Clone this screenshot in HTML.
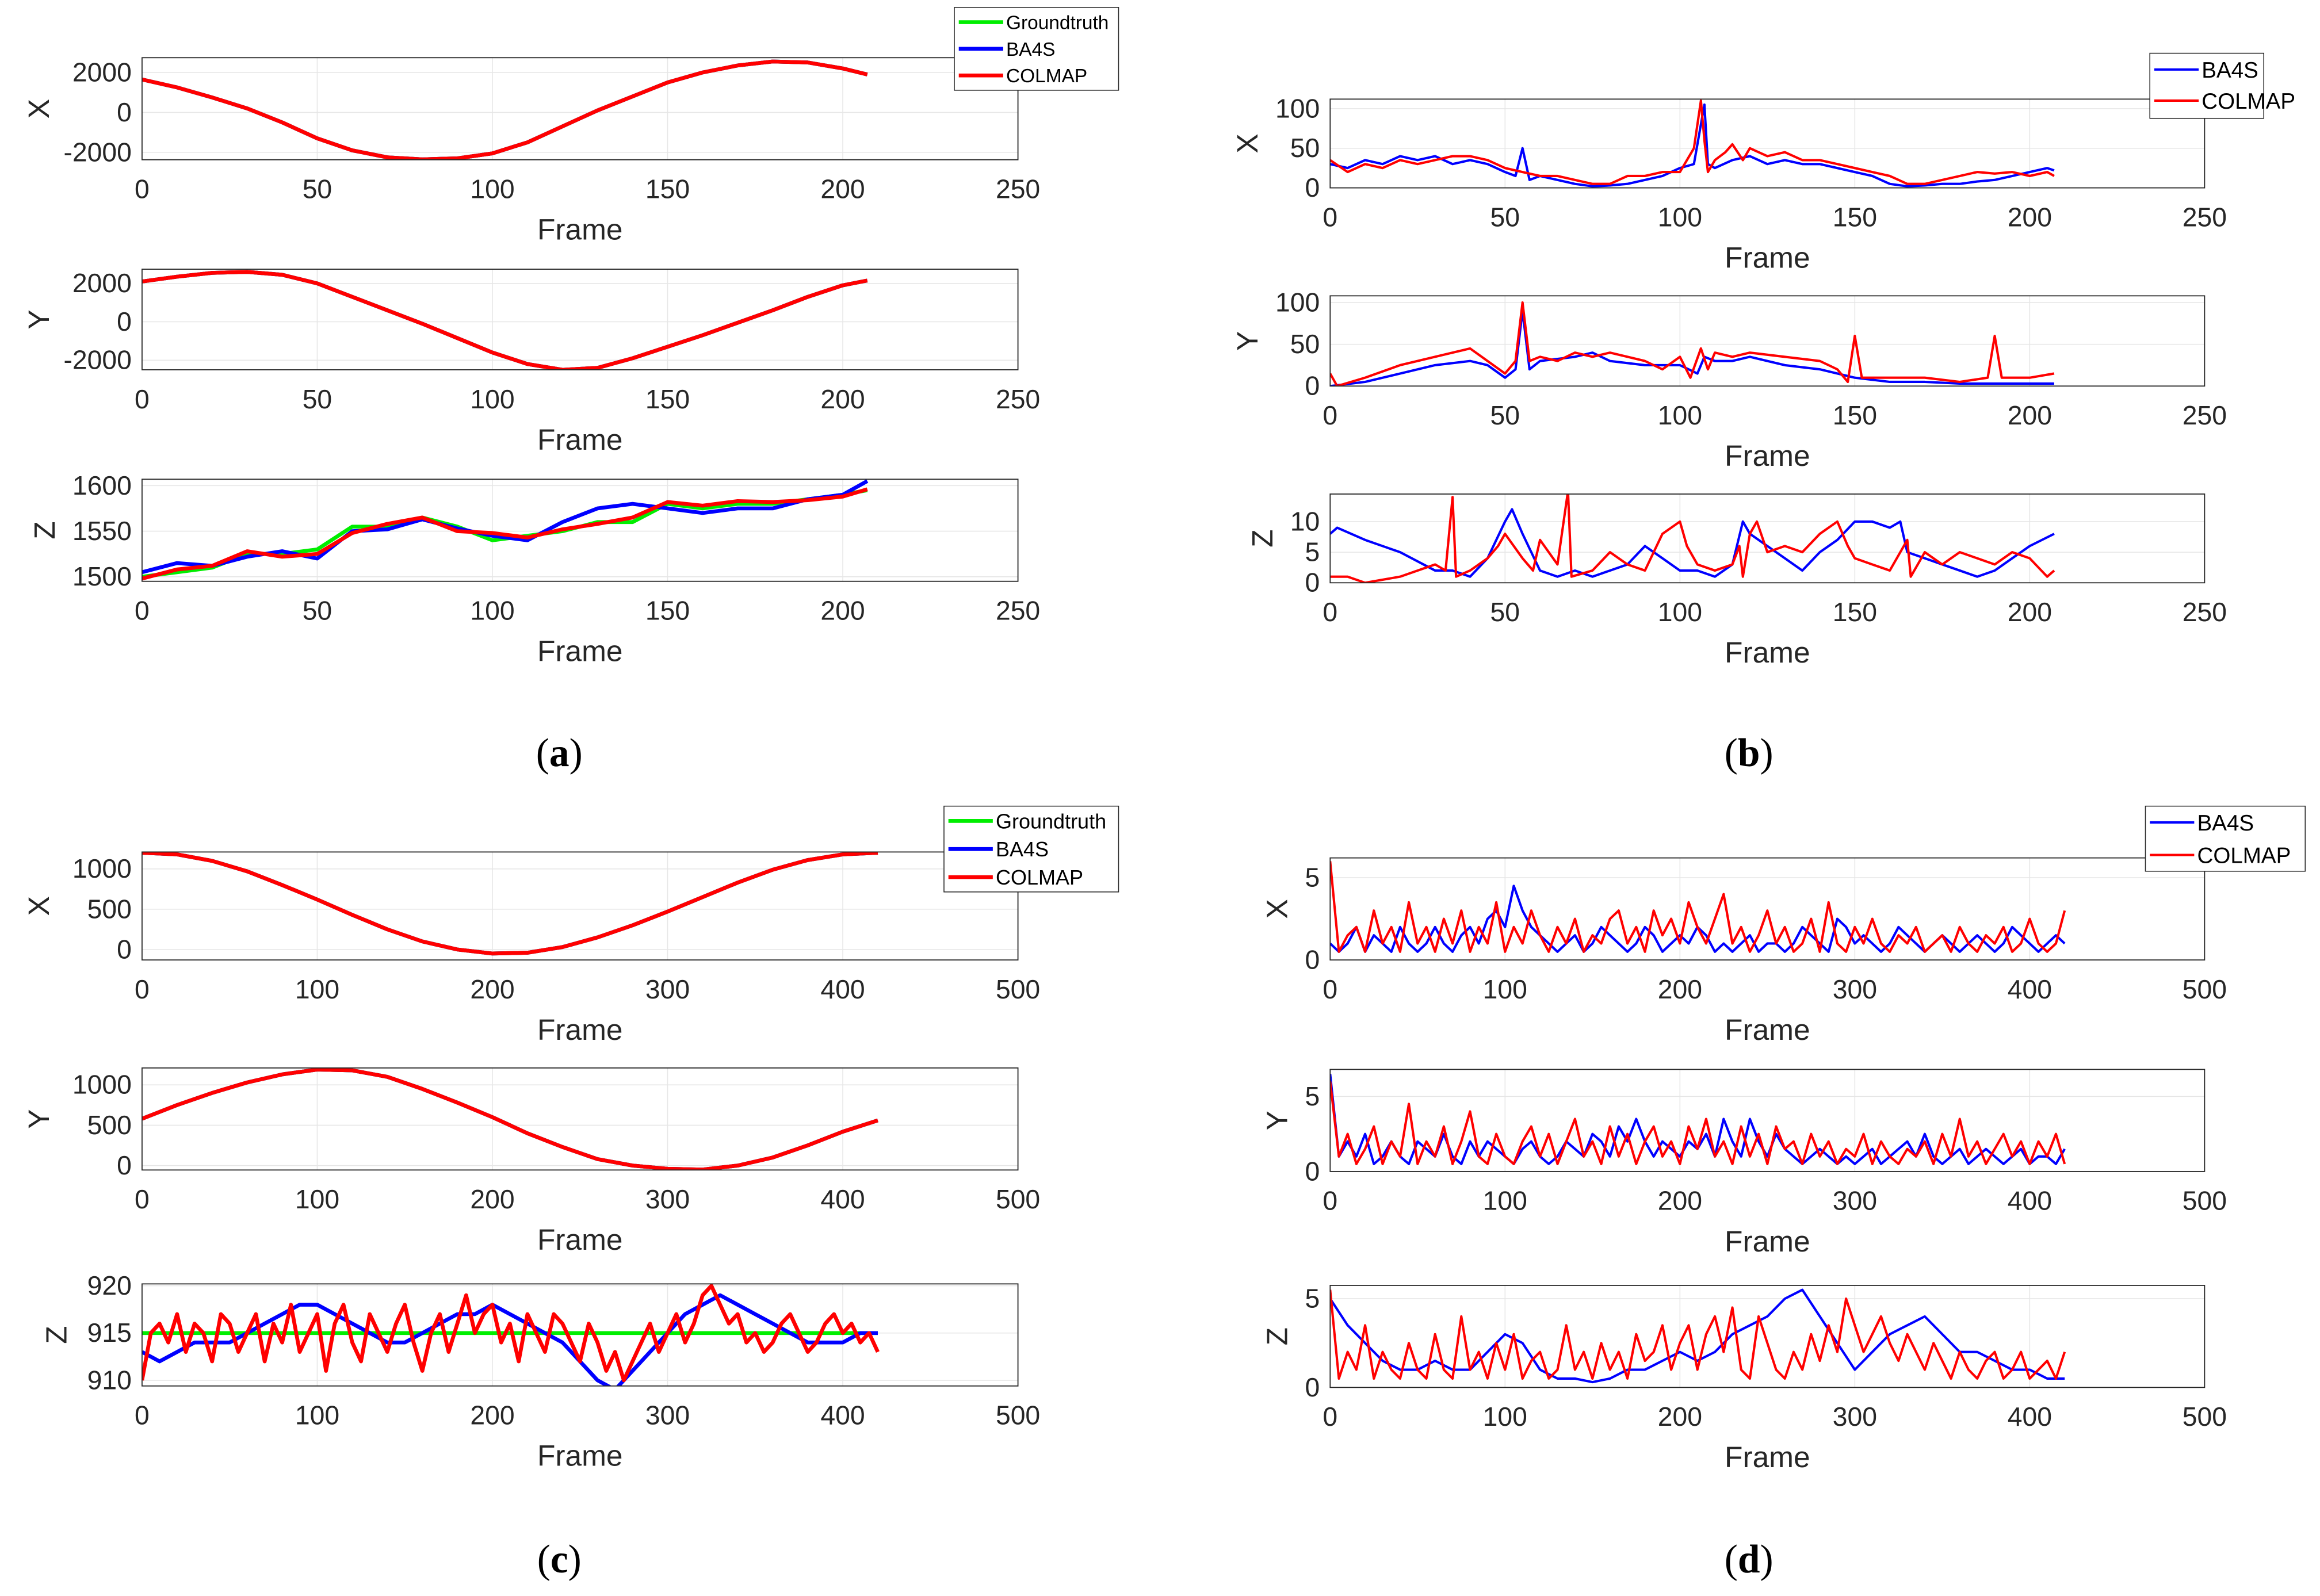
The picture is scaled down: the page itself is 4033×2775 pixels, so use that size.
<!DOCTYPE html>
<html><head><meta charset="utf-8"><style>
html,body{margin:0;padding:0;background:#fff;}
svg{display:block;}
text{font-family:"Liberation Sans",sans-serif;}
</style></head><body>
<svg id="fig" width="4033" height="2775" viewBox="0 0 1568 1079" preserveAspectRatio="none" xmlns="http://www.w3.org/2000/svg"></svg>
<script>
// ---- data ----
const aF=[0,10,20,30,40,50,60,70,80,90,100,110,120,130,140,150,160,170,180,190,200,207];
const aX=[1650,1250,750,200,-500,-1300,-1900,-2250,-2350,-2300,-2050,-1500,-700,100,800,1500,2000,2350,2550,2500,2200,1900];
const aY=[2100,2350,2550,2600,2450,2000,1300,600,-100,-850,-1600,-2200,-2500,-2400,-1900,-1300,-700,-50,600,1300,1900,2150];
const aZgt=[1500,1505,1510,1525,1525,1530,1555,1555,1565,1555,1540,1545,1550,1560,1560,1580,1575,1580,1580,1585,1590,1595];
const aZba=[1505,1515,1512,1522,1528,1520,1550,1552,1563,1553,1545,1540,1560,1575,1580,1575,1570,1575,1575,1585,1590,1605];
const aZco=[1498,1508,1512,1528,1522,1525,1548,1558,1565,1550,1548,1543,1552,1558,1565,1582,1578,1583,1582,1584,1588,1596];

const bXbF=[0,5,10,15,20,25,30,35,40,45,50,53,55,57,60,65,70,75,80,85,90,95,100,104,106,107,108,110,115,120,125,130,135,140,145,150,155,160,165,170,175,180,185,190,195,200,205,207];
const bXb=[30,25,35,30,40,35,40,30,35,30,20,15,50,10,15,10,5,2,3,5,10,15,25,30,80,105,30,25,35,40,30,35,30,30,25,20,15,5,2,3,5,5,8,10,15,20,25,22];
const bXrF=[0,5,10,15,20,25,30,35,40,45,50,55,60,65,70,75,80,85,90,95,100,104,106,107,108,110,113,115,118,120,125,130,135,140,145,150,155,160,165,170,175,180,185,190,195,200,205,207];
const bXr=[35,20,30,25,35,30,35,40,40,35,25,20,15,15,10,5,5,15,15,20,20,50,110,60,20,35,45,55,35,50,40,45,35,35,30,25,20,15,5,5,10,15,20,18,20,15,20,15];
const bYbF=[0,10,20,30,40,45,50,53,55,57,60,70,75,80,90,100,105,107,110,115,120,130,140,150,160,170,180,190,200,207];
const bYb=[0,5,15,25,30,25,10,20,90,20,30,35,40,30,25,25,15,35,30,30,35,25,20,10,5,5,3,3,3,3];
const bYrF=[0,2,10,20,30,35,40,45,50,53,55,57,60,65,70,75,80,85,90,95,100,103,106,108,110,115,120,130,140,145,148,150,152,160,170,180,188,190,192,200,207];
const bYr=[15,0,10,25,35,40,45,30,15,30,100,30,35,30,40,35,40,35,30,20,35,10,45,20,40,35,40,35,30,20,5,60,10,10,10,5,10,60,10,10,15];
const bZbF=[0,2,10,20,30,35,40,45,50,52,55,60,65,70,75,80,85,90,95,100,105,110,115,118,120,125,130,135,140,145,150,155,160,163,165,170,175,180,185,190,195,200,207];
const bZb=[8,9,7,5,2,2,1,4,10,12,8,2,1,2,1,2,3,6,4,2,2,1,3,10,8,6,4,2,5,7,10,10,9,10,5,4,3,2,1,2,4,6,8];
const bZrF=[0,5,10,20,30,33,35,36,40,45,48,50,55,58,60,65,68,69,75,80,85,90,95,100,102,105,110,115,117,118,120,122,125,130,135,140,145,148,150,155,160,165,166,170,175,180,185,190,195,200,205,207];
const bZr=[1,1,0,1,3,2,14,1,2,4,6,8,4,2,7,3,15,1,2,5,3,2,8,10,6,3,2,3,6,1,8,10,5,6,5,8,10,6,4,3,2,7,1,5,3,5,4,3,5,4,1,2];

const cF=[0,20,40,60,80,100,120,140,160,180,200,220,240,260,280,300,320,340,360,380,400,420];
const cX=[1200,1180,1100,970,800,620,430,250,100,0,-50,-40,30,150,300,470,650,830,990,1110,1180,1200];
const cY=[580,750,900,1030,1130,1190,1180,1100,950,780,600,400,230,80,0,-40,-50,0,100,250,420,560];
const cZgt=[915,915];
const cZgtF=[0,420];
const cZb=[913,912,913,914,914,914,915,916,917,918,918,917,916,915,914,914,915,916,917,917,918,917,916,915,914,912,910,909,911,913,915,917,918,919,918,917,916,915,914,914,914,915,915];
const cZr=[910,915,916,914,917,913,916,915,912,917,916,913,915,917,912,916,914,918,913,915,917,911,916,918,914,912,917,915,913,916,918,914,911,915,917,913,916,919,915,917,918,914,916,912,917,915,913,917,916,914,912,916,914,911,913,910,912,914,916,913,915,917,914,916,919,920,918,916,917,914,915,913,914,916,917,915,913,914,916,917,915,916,914,915,913];

const dXb=[1,0.5,1,2,0.5,1.5,1,0.5,2,1,0.5,1,2,1,0.5,1.5,2,1,2.5,3,2,4.5,3,2,1.5,1,0.5,1,1.5,0.5,1,2,1.5,1,0.5,1,2,1.5,0.5,1,1.5,1,2,1.5,0.5,1,0.5,1,1.5,0.5,1,1,0.5,1,2,1.5,1,0.5,2.5,2,1,1.5,1,0.5,1,2,1.5,1,0.5,1,1.5,1,0.5,1,1.5,1,0.5,1,2,1.5,1,0.5,1,1.5,1];
const dXr=[6,0.5,1.5,2,0.5,3,1,2,0.5,3.5,1,2,0.5,2.5,1,3,0.5,2,1,3.5,0.5,2,1,3,1.5,0.5,2,1,2.5,0.5,1.5,1,2.5,3,1,2,0.5,3,1.5,2.5,1,3.5,2,1,2.5,4,1,2,0.5,1.5,3,1,2,0.5,1,2.5,0.5,3.5,1,0.5,2,1,2.5,1,0.5,1.5,1,2,0.5,1,1.5,0.5,2,1,0.5,1.5,1,2,0.5,1,2.5,1,0.5,1,3];
const dYb=[6.5,1,2,1,2.5,0.5,1,2,1,0.5,2,1.5,1,2.5,1,0.5,2,1,2,1.5,1,0.5,1.5,2,1,0.5,1,2,1.5,1,2.5,2,1,3,2,3.5,2,1,2,1.5,1,2,1.5,2.5,1,3.5,2,1,3.5,2,1,2.5,1.5,1,0.5,1,1.5,1,0.5,1,0.5,1,1.5,0.5,1,1.5,2,1,2.5,1,0.5,1,1.5,0.5,1,1.5,1,0.5,1,1.5,0.5,1,1,0.5,1.5];
const dYr=[6,1,2.5,0.5,1.5,3,0.5,2,1,4.5,0.5,2,1,3,0.5,2,4,1,0.5,2.5,1,0.5,2,3,1,2.5,0.5,2,3.5,1,2,0.5,3,1,2.5,0.5,2,3,1,2,0.5,3,1.5,3.5,1,2,0.5,3,1,2.5,0.5,3,1.5,2,0.5,2.5,1,2,0.5,1.5,1,2.5,0.5,2,1,0.5,1.5,1,2,0.5,2.5,1,3.5,1,2,0.5,1.5,2.5,1,2,0.5,2,1,2.5,0.5];
const dZb=[5,3.5,2.5,1.5,1,1,1.5,1,1,2,3,2.5,1,0.5,0.5,0.3,0.5,1,1,1.5,2,1.5,2,3,3.5,4,5,5.5,4,2.5,1,2,3,3.5,4,3,2,2,1.5,1,1,0.5,0.5];
const dZr=[5.5,0.5,2,1,3.5,0.5,2,1,0.5,2.5,1,0.5,3,1,0.5,4,1,2,0.5,2.5,1,3,0.5,1.5,2,0.5,1,3.5,1,2,0.5,2.5,1,2,0.5,3,1.5,2,3.5,1,2.5,3.5,1,3,4,2,4.5,1,0.5,4,2.5,1,0.5,2,1,3,1.5,3.5,2,5,3.5,2,3,4,2.5,1.5,3,2,1,2.5,1.5,0.5,2,1,0.5,1.5,2,0.5,1,2,0.5,1,1.5,0.5,2];

const ticksA=[0,50,100,150,200,250];
const ticksC=[0,100,200,300,400,500];

// ---- helpers ----
const NS='http://www.w3.org/2000/svg';
const svg=document.getElementById('fig');
function el(tag,attrs,parent){const e=document.createElementNS(NS,tag);for(const k in attrs)e.setAttribute(k,attrs[k]);(parent||svg).appendChild(e);return e;}
function txt(x,y,s,size,anchor,extra,parent){const t=el('text',Object.assign({x:x,y:y,'font-size':size,'text-anchor':anchor||'middle',fill:'#262626'},extra||{}),parent);t.textContent=s;return t;}
function step(n,d){const r=[];for(let i=0;i<n;i++)r.push(i*d);return r;}

function axes(name,b,xmax,xt,ylo,yhi,yt,ylab,series,lw){
  const g=el('g',{});
  
  
  const sx=v=>b.x0+(v/xmax)*(b.x1-b.x0);
  const sy=v=>b.y1-(v-ylo)/(yhi-ylo)*(b.y1-b.y0);
  xt.forEach(v=>{const l=el('line',{x1:sx(v),x2:sx(v),y1:b.y0,y2:b.y1,stroke:'#e6e6e6','stroke-width':0.6},g);});
  yt.forEach(v=>{const l=el('line',{x1:b.x0,x2:b.x1,y1:sy(v),y2:sy(v),stroke:'#e6e6e6','stroke-width':0.6},g);});
  const cp='cp'+name;
  const cl=el('clipPath',{id:cp},g);el('rect',{x:b.x0,y:b.y0,width:b.x1-b.x0,height:b.y1-b.y0},cl);
  series.forEach(s=>{
    const d=s.f.map((f,i)=>(i?'L':'M')+sx(f).toFixed(2)+' '+sy(s.v[i]).toFixed(2)).join('');
    const p=el('path',{d:d,fill:'none',stroke:s.c,'stroke-width':lw,'stroke-linejoin':'round','clip-path':'url(#'+cp+')'},g);
    
    
  });
  const fr=el('rect',{x:b.x0,y:b.y0,width:b.x1-b.x0,height:b.y1-b.y0,fill:'none',stroke:'#262626','stroke-width':0.7},g);
  
  
  xt.forEach(v=>{const t=txt(sx(v),b.y1+26,String(v),18,'middle',{},g);});
  yt.forEach(v=>{const t=txt(b.x0-7,sy(v)+6,String(v),18,'end',{},g);});
  const xl=txt((b.x0+b.x1)/2,b.y1+54,'Frame',20,'middle',{},g);
  
  
  const yx=b.lx, yy=(b.y0+b.y1)/2;
  const yl=txt(yx,yy+7,ylab,20,'middle',{transform:'rotate(-90 '+yx+' '+yy+')'},g);
  
  
}
function legend(name,x0,y0,x1,y1,entries,fs){
  const g=el('g',{});
  
  
  el('rect',{x:x0,y:y0,width:x1-x0,height:y1-y0,fill:'#fff',stroke:'#262626','stroke-width':0.6},g);
  entries.forEach(e=>{
    el('line',{x1:x0+3,x2:x0+33,y1:e.y,y2:e.y,stroke:e.c,'stroke-width':e.w},g);
    const t=txt(x0+35,e.y+fs*0.36,e.t,fs,'start',{fill:'#000'},g);
    
    
  });
}
function plabel(x,y,letter){
  const t=el('text',{x:x,y:y,'font-size':27,'text-anchor':'middle',fill:'#000',style:'font-family:"Liberation Serif",serif'});
  
  
  const a=el('tspan',{},t);a.textContent='(';
  const b=el('tspan',{'font-weight':'bold'},t);b.textContent=letter;
  const c=el('tspan',{},t);c.textContent=')';
}

const G='#00ee00',B='#0000ff',R='#ff0000';
// Panel (a)
axes('a-x-plot',{x0:96,x1:688,y0:39,y1:108,lx:26},250,ticksA,-2370,2740,[-2000,0,2000],'X',[{f:aF,v:aX,c:G,n:'gt-line'},{f:aF,v:aX,c:B,n:'ba4s-line'},{f:aF,v:aX,c:R,n:'colmap-line'}],2.6);
axes('a-y-plot',{x0:96,x1:688,y0:182,y1:250,lx:26},250,ticksA,-2500,2740,[-2000,0,2000],'Y',[{f:aF,v:aY,c:G,n:'gt-line'},{f:aF,v:aY,c:B,n:'ba4s-line'},{f:aF,v:aY,c:R,n:'colmap-line'}],2.6);
axes('a-z-plot',{x0:96,x1:688,y0:324,y1:393,lx:30},250,ticksA,1495,1607,[1500,1550,1600],'Z',[{f:aF,v:aZgt,c:G,n:'gt-line'},{f:aF,v:aZba,c:B,n:'ba4s-line'},{f:aF,v:aZco,c:R,n:'colmap-line'}],2.6);
legend('legend-a',645,5,756,61,[{y:15,c:G,t:'Groundtruth',w:2.6},{y:33,c:B,t:'BA4S',w:2.6},{y:51,c:R,t:'COLMAP',w:2.6}],13);
plabel(378,518,'a');
// Panel (b)
axes('b-x-plot',{x0:899,x1:1490,y0:67,y1:127,lx:843},250,ticksA,0,112,[0,50,100],'X',[{f:bXbF,v:bXb,c:B,n:'ba4s-line'},{f:bXrF,v:bXr,c:R,n:'colmap-line'}],1.6);
axes('b-y-plot',{x0:899,x1:1490,y0:200,y1:261,lx:843},250,ticksA,0,108,[0,50,100],'Y',[{f:bYbF,v:bYb,c:B,n:'ba4s-line'},{f:bYrF,v:bYr,c:R,n:'colmap-line'}],1.6);
axes('b-z-plot',{x0:899,x1:1490,y0:334,y1:394,lx:853},250,ticksA,0,14.5,[0,5,10],'Z',[{f:bZbF,v:bZb,c:B,n:'ba4s-line'},{f:bZrF,v:bZr,c:R,n:'colmap-line'}],1.6);
legend('legend-b',1453,36,1530,80,[{y:47,c:B,t:'BA4S',w:1.6},{y:68,c:R,t:'COLMAP',w:1.6}],15);
plabel(1182,518,'b');
// Panel (c)
axes('c-x-plot',{x0:96,x1:688,y0:576,y1:649,lx:26},500,ticksC,-130,1210,[0,500,1000],'X',[{f:cF,v:cX,c:G,n:'gt-line'},{f:cF,v:cX,c:B,n:'ba4s-line'},{f:cF,v:cX,c:R,n:'colmap-line'}],2.6);
axes('c-y-plot',{x0:96,x1:688,y0:722,y1:791,lx:26},500,ticksC,-55,1210,[0,500,1000],'Y',[{f:cF,v:cY,c:G,n:'gt-line'},{f:cF,v:cY,c:B,n:'ba4s-line'},{f:cF,v:cY,c:R,n:'colmap-line'}],2.6);
axes('c-z-plot',{x0:96,x1:688,y0:868,y1:937,lx:38},500,ticksC,909.4,920.2,[910,915,920],'Z',[{f:cZgtF,v:cZgt,c:G,n:'gt-line'},{f:step(43,10),v:cZb,c:B,n:'ba4s-line'},{f:step(85,5),v:cZr,c:R,n:'colmap-line'}],2.6);
legend('legend-c',638,545,756,603,[{y:555,c:G,t:'Groundtruth',w:2.6},{y:574,c:B,t:'BA4S',w:2.6},{y:593,c:R,t:'COLMAP',w:2.6}],14);
plabel(378,1063,'c');
// Panel (d)
axes('d-x-plot',{x0:899,x1:1490,y0:580,y1:649,lx:863},500,ticksC,0,6.2,[0,5],'X',[{f:step(85,5),v:dXb,c:B,n:'ba4s-line'},{f:step(85,5),v:dXr,c:R,n:'colmap-line'}],1.6);
axes('d-y-plot',{x0:899,x1:1490,y0:723,y1:792,lx:863},500,ticksC,0,6.8,[0,5],'Y',[{f:step(85,5),v:dYb,c:B,n:'ba4s-line'},{f:step(85,5),v:dYr,c:R,n:'colmap-line'}],1.6);
axes('d-z-plot',{x0:899,x1:1490,y0:869,y1:938,lx:863},500,ticksC,0,5.75,[0,5],'Z',[{f:step(43,10),v:dZb,c:B,n:'ba4s-line'},{f:step(85,5),v:dZr,c:R,n:'colmap-line'}],1.6);
legend('legend-d',1450,545,1558,589,[{y:556,c:B,t:'BA4S',w:1.6},{y:578,c:R,t:'COLMAP',w:1.6}],15);
plabel(1182,1063,'d');
</script>
</body></html>
